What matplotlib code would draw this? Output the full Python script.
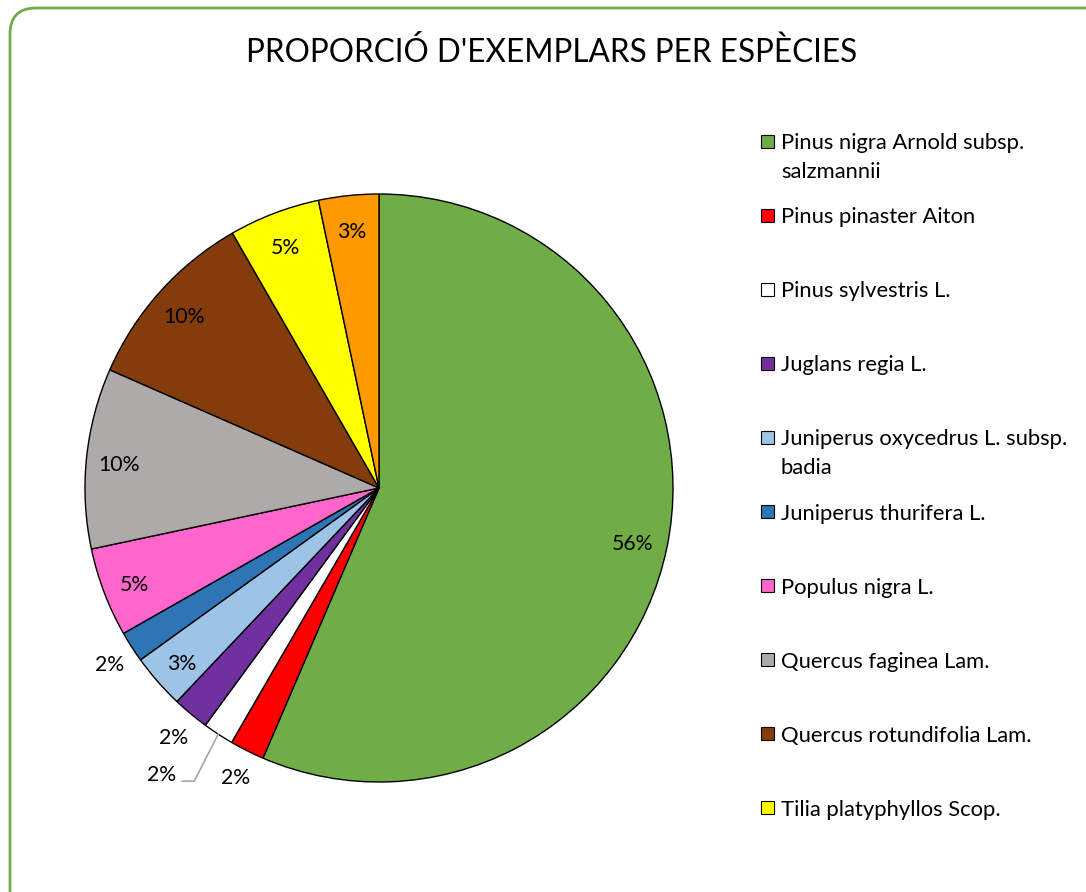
import numpy as np
import matplotlib
matplotlib.use("Agg")
import matplotlib.pyplot as plt
from matplotlib.patches import FancyBboxPatch, Rectangle
from matplotlib.lines import Line2D
from matplotlib.transforms import offset_copy

plt.rcParams['font.family'] = ['Lato', 'DejaVu Sans']

title = "PROPORCIÓ D'EXEMPLARS PER ESPÈCIES"
species = [
    "Pinus nigra Arnold subsp.\nsalzmannii",
    "Pinus pinaster Aiton",
    "Pinus sylvestris L.",
    "Juglans regia L.",
    "Juniperus oxycedrus L. subsp.\nbadia",
    "Juniperus thurifera L.",
    "Populus nigra L.",
    "Quercus faginea Lam.",
    "Quercus rotundifolia Lam.",
    "Tilia platyphyllos Scop.",
    "(altres)",
]
shares = [56.4, 1.9, 1.7, 2.0, 3.0, 1.7, 4.9, 9.9, 10.1, 5.0, 3.3]
colors = ["#70AD47", "#FF0000", "#FFFFFF", "#7030A0", "#9DC3E6", "#2E75B6",
          "#FF66CC", "#AEAAAA", "#843C0C", "#FFFF00", "#FF9900"]
legend_count = 10  # the last entry is hidden (cut off) in the reference

W, H = 1086, 892
fig = plt.figure(figsize=(W / 100, H / 100), dpi=100)

# background axes in pixel coordinates (y downward)
bg = fig.add_axes([0, 0, 1, 1])
bg.set_xlim(0, W)
bg.set_ylim(H, 0)
bg.axis("off")
bg.add_patch(FancyBboxPatch((10, 8), 1150, 950,
                            boxstyle="round,pad=0,rounding_size=26",
                            fill=False, edgecolor="#70AD47", linewidth=2.0))

bg.text(552, 52, title, ha="center", va="center", fontsize=22.7, color="#000000")

cx, cy, R = 379, 488, 294
ax = fig.add_axes([(cx - R) / W, 1 - (cy + R) / H, 2 * R / W, 2 * R / H])
wedges, _ = ax.pie(shares, colors=colors, startangle=90, counterclock=False,
                   radius=1, wedgeprops=dict(edgecolor="black", linewidth=1.0))
ax.set_xlim(-1, 1)
ax.set_ylim(-1, 1)
ax.set_aspect("equal")
ax.axis("off")

fs = 15.3
lab_tr = offset_copy(ax.transData, fig=fig, x=0, y=-4, units="dots")
total = sum(shares)
for i, (w, v) in enumerate(zip(wedges, shares)):
    mid = np.deg2rad((w.theta1 + w.theta2) / 2)
    lab = f"{round(v / total * 100):d}%"
    if i == 2:
        # label moved away with a leader line
        ex, ey = np.cos(mid), np.sin(mid)
        p0 = ax.transData.transform((ex, ey))
        pts = [p0, p0 + np.array([-24, -47]), p0 + np.array([-36, -47])]
        inv = ax.transData.inverted()
        d = inv.transform(np.array(pts))
        ax.add_line(Line2D(d[:, 0], d[:, 1], color="#A6A6A6", lw=1.2, clip_on=False))
        tx, ty = inv.transform(p0 + np.array([-57, -37]))
        ax.text(tx, ty, lab, ha="center", va="center", fontsize=fs, transform=lab_tr)
    elif v < 2.5:
        r = 1.09
        ax.text(r * np.cos(mid), r * np.sin(mid), lab, ha="center", va="center",
                fontsize=fs, transform=lab_tr)
    else:
        r = 0.88 if v > 50 else 0.89
        ax.text(r * np.cos(mid), r * np.sin(mid), lab, ha="center", va="center",
                fontsize=fs, transform=lab_tr)

# legend (manual, to match the reference layout)
y0, step, line_h = 141, 74.1, 29
for i in range(legend_count):
    yc = y0 + i * step
    bg.add_patch(Rectangle((761, yc - 6.5), 13, 13, facecolor=colors[i],
                           edgecolor="black", linewidth=0.8))
    for k, line in enumerate(species[i].split("\n")):
        bg.text(781, yc + k * line_h, line, ha="left", va="center_baseline",
                fontsize=15.8)

fig.savefig("out.png", dpi=100)
